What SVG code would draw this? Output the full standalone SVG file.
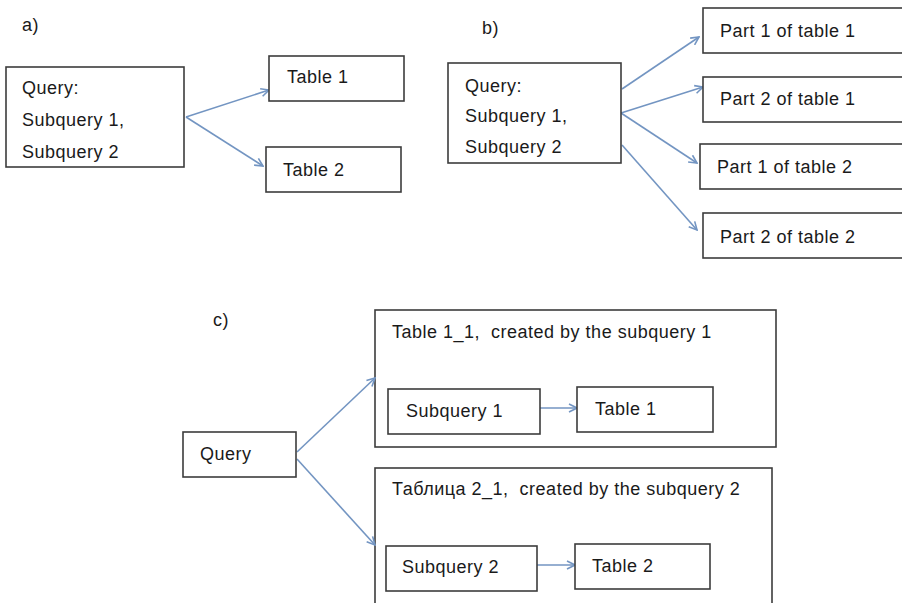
<svg xmlns="http://www.w3.org/2000/svg" width="902" height="603" viewBox="0 0 902 603">
<defs>
<style>
.box{fill:#fff;stroke:#3c3c3c;stroke-width:1.6}
.frame{fill:none;stroke:#3c3c3c;stroke-width:1.6}
.t{font-family:"Liberation Sans",Arial,sans-serif;font-size:18px;letter-spacing:0.5px;fill:#1a1a1a;white-space:pre}
.c{fill:none;stroke:#7395c2;stroke-width:1.6}
</style>
<marker id="ah" viewBox="0 0 10 10" refX="9" refY="5" markerWidth="10" markerHeight="10" markerUnits="userSpaceOnUse" orient="auto">
<path d="M1,1 L9,5 L1,9" fill="none" stroke="#7395c2" stroke-width="1.6"/>
</marker>
</defs>
<rect width="902" height="603" fill="#fff"/>

<text class="t" x="22" y="31">a)</text>
<text class="t" x="482" y="34">b)</text>
<text class="t" x="213" y="326">c)</text>

<g id="c_group1">
<rect class="frame" x="375" y="310" width="401" height="137"/>
<text class="t" x="392" y="338" xml:space="preserve">Table 1_1,  created by the subquery 1</text>
</g>
<g id="c_group2">
<rect class="frame" x="375" y="468" width="397" height="150"/>
<text class="t" x="392" y="495" xml:space="preserve">Таблица 2_1,  created by the subquery 2</text>
</g>

<g id="connectors">
<line class="c" x1="186" y1="117" x2="269" y2="90" marker-end="url(#ah)"/>
<line class="c" x1="186" y1="117" x2="263" y2="166" marker-end="url(#ah)"/>
<line class="c" x1="622" y1="89" x2="699" y2="37" marker-end="url(#ah)"/>
<line class="c" x1="621" y1="113" x2="703" y2="87" marker-end="url(#ah)"/>
<line class="c" x1="621" y1="113" x2="697" y2="163" marker-end="url(#ah)"/>
<line class="c" x1="622" y1="145" x2="697" y2="230" marker-end="url(#ah)"/>
<line class="c" x1="297" y1="452" x2="375" y2="378" marker-end="url(#ah)"/>
<line class="c" x1="297" y1="459" x2="375" y2="545" marker-end="url(#ah)"/>
<line class="c" x1="540" y1="408" x2="577" y2="408" marker-end="url(#ah)"/>
<line class="c" x1="537" y1="565" x2="575" y2="565" marker-end="url(#ah)"/>
</g>

<g id="a_query">
<rect class="box" x="6" y="67" width="178" height="100"/>
<text class="t" x="22" y="94">Query:</text>
<text class="t" x="22" y="126">Subquery 1,</text>
<text class="t" x="22" y="158">Subquery 2</text>
</g>
<g id="a_table1">
<rect class="box" x="269" y="56" width="135" height="45"/>
<text class="t" x="287" y="83">Table 1</text>
</g>
<g id="a_table2">
<rect class="box" x="266" y="147" width="135" height="45"/>
<text class="t" x="283" y="176">Table 2</text>
</g>

<g id="b_query">
<rect class="box" x="448" y="63" width="173" height="100"/>
<text class="t" x="465" y="92">Query:</text>
<text class="t" x="465" y="122">Subquery 1,</text>
<text class="t" x="465" y="153">Subquery 2</text>
</g>
<g id="b_p1t1">
<rect class="box" x="703" y="8" width="210" height="45"/>
<text class="t" x="720" y="37">Part 1 of table 1</text>
</g>
<g id="b_p2t1">
<rect class="box" x="703" y="77" width="210" height="45"/>
<text class="t" x="720" y="105">Part 2 of table 1</text>
</g>
<g id="b_p1t2">
<rect class="box" x="700" y="144" width="210" height="45"/>
<text class="t" x="717" y="173">Part 1 of table 2</text>
</g>
<g id="b_p2t2">
<rect class="box" x="703" y="213" width="210" height="45"/>
<text class="t" x="720" y="243">Part 2 of table 2</text>
</g>

<g id="c_query">
<rect class="box" x="183" y="432" width="113" height="45"/>
<text class="t" x="200" y="460">Query</text>
</g>
<g id="c_sub1">
<rect class="box" x="388" y="389" width="152" height="45"/>
<text class="t" x="406" y="417">Subquery 1</text>
</g>
<g id="c_table1">
<rect class="box" x="577" y="387" width="136" height="45"/>
<text class="t" x="595" y="415">Table 1</text>
</g>
<g id="c_sub2">
<rect class="box" x="386" y="546" width="151" height="45"/>
<text class="t" x="402" y="573">Subquery 2</text>
</g>
<g id="c_table2">
<rect class="box" x="575" y="544" width="135" height="45"/>
<text class="t" x="592" y="572">Table 2</text>
</g>
</svg>
